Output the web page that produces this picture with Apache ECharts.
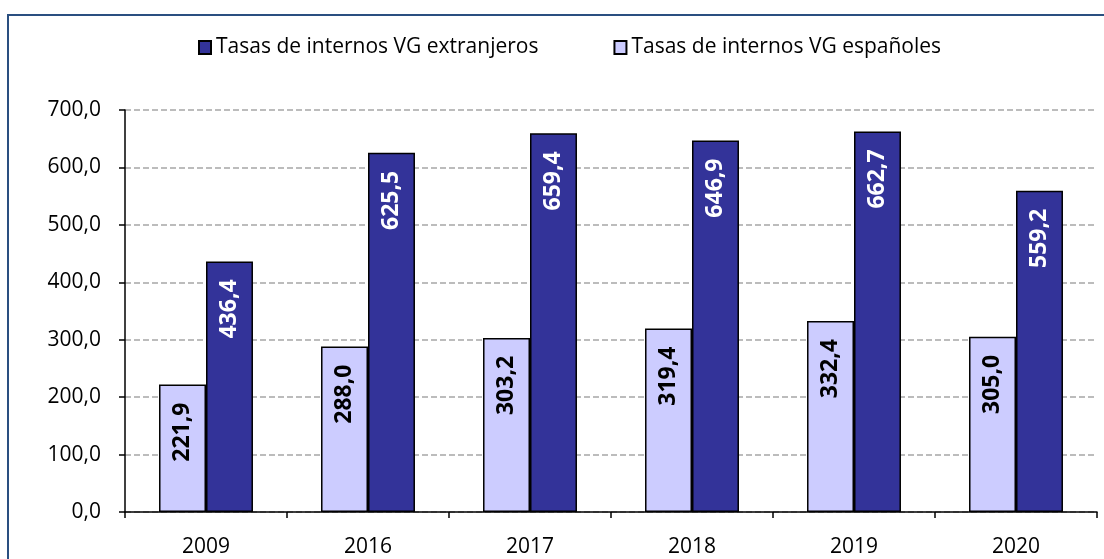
<!DOCTYPE html>
<html>
<head>
<meta charset="utf-8">
<script src="https://cdn.jsdelivr.net/npm/echarts@6/dist/echarts.min.js"></script>
<style>
html,body{margin:0;padding:0;background:#fff;}
#c{width:1104px;height:559px;}
</style>
</head>
<body>
<div id="c"></div>
<script>
const categories = ['2009', '2016', '2017', '2018', '2019', '2020'];
const espanoles = [221.9, 288.0, 303.2, 319.4, 332.4, 305.0];
const extranjeros = [436.4, 625.5, 659.4, 646.9, 662.7, 559.2];
const nameExt = 'Tasas de internos VG extranjeros';
const nameEsp = 'Tasas de internos VG españoles';

const FONT = 'Open Sans';
const fmt = v => Number(v).toFixed(1).replace('.', ',');

const chart = echarts.init(document.getElementById('c'), null, {renderer: 'canvas'});
chart.setOption({
  animation: false,
  backgroundColor: '#ffffff',
  textStyle: {fontFamily: FONT},
  graphic: [{
    type: 'rect',
    shape: {x: 8, y: 15, width: 1120, height: 600},
    style: {fill: 'none', stroke: '#2a4f80', lineWidth: 2},
    silent: true,
    z: -1
  }],
  legend: {
    data: [nameExt, nameEsp],
    left: 193,
    top: 32,
    itemWidth: 12,
    itemHeight: 13,
    itemGap: 75,
    icon: 'rect',
    textStyle: {fontFamily: FONT, fontSize: 21, color: '#000', padding: [0, 0, 0, 0]}
  },
  grid: {left: 125, right: 7, top: 110, bottom: 47, containLabel: false},
  xAxis: {
    type: 'category',
    data: categories,
    axisLine: {lineStyle: {color: '#000', width: 1.5}},
    axisTick: {show: true, length: 6, lineStyle: {color: '#000', width: 1.5}},
    axisLabel: {fontFamily: FONT, fontSize: 21, color: '#000', margin: 25}
  },
  yAxis: {
    type: 'value',
    min: 0, max: 700, interval: 100,
    axisLine: {show: true, lineStyle: {color: '#000', width: 1.5}},
    axisTick: {show: true, length: 6, lineStyle: {color: '#000', width: 1.5}},
    axisLabel: {fontFamily: FONT, fontSize: 21, color: '#000', margin: 24, formatter: fmt},
    splitLine: {show: true, lineStyle: {color: '#a6a6a6', width: 1.5, type: [6, 3]}}
  },
  series: [
    {
      name: nameEsp,
      type: 'bar',
      data: espanoles,
      barGap: '0%',
      barCategoryGap: '42%',
      itemStyle: {color: '#ccccff', borderColor: '#000', borderWidth: 1.5},
      label: {
        show: true, position: 'insideTop', rotate: 90, align: 'right', verticalAlign: 'middle',
        distance: 18, fontFamily: FONT, fontWeight: 'bold', fontSize: 23, color: '#000',
        formatter: p => fmt(p.value)
      }
    },
    {
      name: nameExt,
      type: 'bar',
      data: extranjeros,
      barGap: '0%',
      barCategoryGap: '42%',
      itemStyle: {color: '#333399', borderColor: '#000', borderWidth: 1.5},
      label: {
        show: true, position: 'insideTop', rotate: 90, align: 'right', verticalAlign: 'middle',
        distance: 18, fontFamily: FONT, fontWeight: 'bold', fontSize: 23, color: '#fff',
        formatter: p => fmt(p.value)
      }
    }
  ]
});
</script>
</body>
</html>
